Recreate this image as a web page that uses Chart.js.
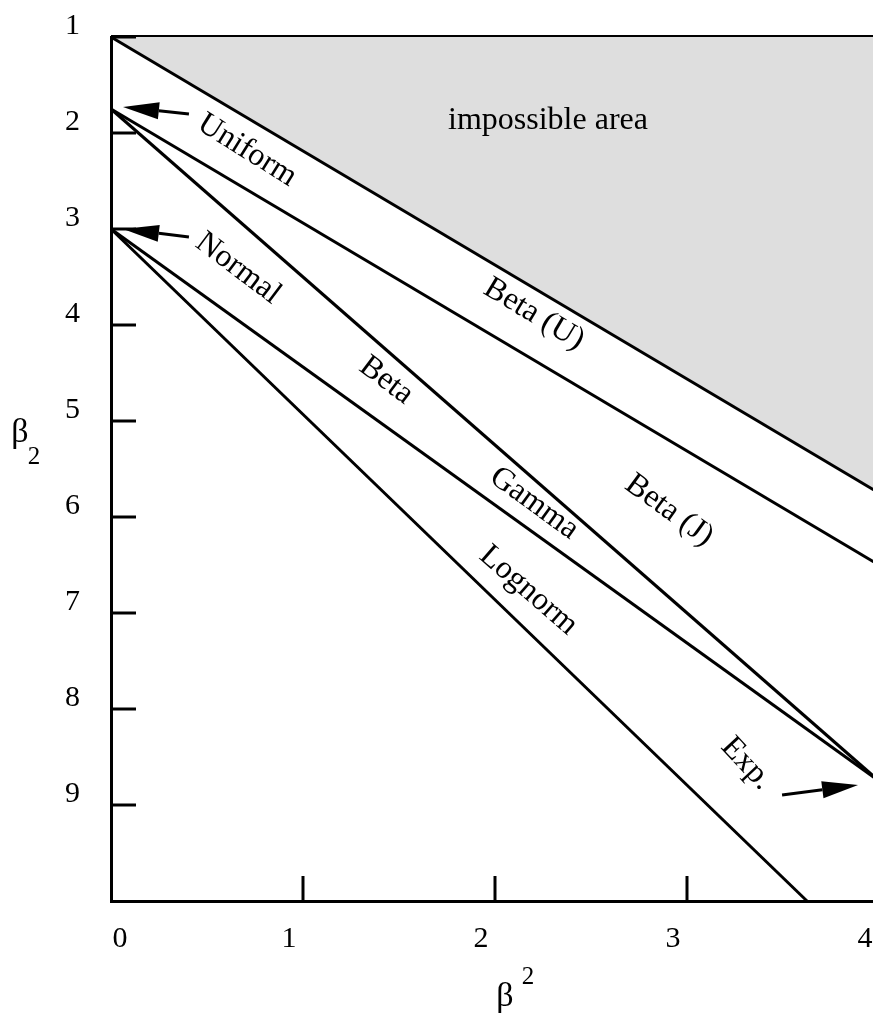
<!DOCTYPE html>
<html>
<head>
<meta charset="utf-8">
<script src="https://cdn.jsdelivr.net/npm/chart.js@4.4.1/dist/chart.umd.min.js"></script>
<style>
  html, body { margin: 0; padding: 0; background: #fff; overflow: hidden; }
  #wrap { position: relative; width: 880px; height: 1014px; }
</style>
</head>
<body>
<div id="wrap"><canvas id="c" width="880" height="1014"></canvas></div>
<script>
// Boundary lines of the (β², β₂) plane, as end points [x = β², y = β₂]
const impossibleX = [0, 4];
const impossibleY = [1, 5.75];
const topEdgeX = [0, 4];
const topEdgeY = [1, 1];
const betaUJX = [0, 4];
const betaUJY = [1.75, 6.5];
const betaX = [0, 4];
const betaY = [1.75, 8.75];
const gammaX = [0, 4];
const gammaY = [3, 8.75];
const lognormX = [0, 3.625];
const lognormY = [3, 10];

// Axis ticks
const xTickValues = [0, 1, 2, 3, 4];
const xTickLabels = ['0', '1', '2', '3', '4'];
const xTickMarks = [1, 2, 3];
const yTickValues = [1, 2, 3, 4, 5, 6, 7, 8, 9];
const yTickLabels = ['1', '2', '3', '4', '5', '6', '7', '8', '9'];

// Region / distribution names, placed in data units
const noteTexts = ['impossible area', 'Uniform', 'Normal', 'Beta (U)', 'Beta', 'Gamma', 'Beta (J)', 'Lognorm', 'Exp.'];
const noteX = [2.276, 0.703, 0.656, 2.198, 1.427, 2.198, 2.901, 2.167, 3.302];
const noteY = [1.896, 2.198, 3.427, 3.906, 4.594, 5.875, 5.948, 6.781, 8.583];
const noteAngle = [0, 32, 37, 31, 37, 36, 36, 41, 47];

// Pointer arrows: tail and head in data units
const arrowFromX = [0.406, 0.406, 3.495];
const arrowFromY = [1.802, 3.083, 8.896];
const arrowToX = [0.0625, 0.0625, 3.891];
const arrowToY = [1.729, 3.0, 8.792];

const serif = "'Liberation Serif', 'Times New Roman', serif";

function pts(xs, ys) { return xs.map((x, i) => ({ x: x, y: ys[i] })); }

function lineSet(xs, ys, extra) {
  return Object.assign({
    data: pts(xs, ys),
    showLine: true,
    borderColor: '#000',
    borderWidth: 3,
    pointRadius: 0,
    fill: false,
    clip: false
  }, extra || {});
}

const overlay = {
  id: 'overlay',
  afterDatasetsDraw(chart) {
    const ctx = chart.ctx;
    const xs = chart.scales.x, ys = chart.scales.y;
    const area = chart.chartArea;
    ctx.save();
    ctx.strokeStyle = '#000';
    ctx.fillStyle = '#000';
    ctx.lineWidth = 3;
    ctx.lineCap = 'butt';

    // inward tick marks
    const tickLen = 25;
    yTickValues.forEach(v => {
      const py = ys.getPixelForValue(v);
      ctx.beginPath(); ctx.moveTo(area.left, py); ctx.lineTo(area.left + tickLen, py); ctx.stroke();
    });
    xTickMarks.forEach(v => {
      const px = xs.getPixelForValue(v);
      ctx.beginPath(); ctx.moveTo(px, area.bottom); ctx.lineTo(px, area.bottom - tickLen); ctx.stroke();
    });

    // x tick labels
    ctx.font = '30px ' + serif;
    ctx.textAlign = 'center';
    ctx.textBaseline = 'middle';
    xTickValues.forEach((v, i) => {
      const px = xs.getPixelForValue(v) + (i === 0 ? 9 : -14);
      ctx.fillText(xTickLabels[i], px, area.bottom + 38);
    });

    // annotations
    ctx.font = '32px ' + serif;
    noteTexts.forEach((t, i) => {
      const px = xs.getPixelForValue(noteX[i]);
      const py = ys.getPixelForValue(noteY[i]);
      ctx.save();
      ctx.translate(px, py);
      ctx.rotate(noteAngle[i] * Math.PI / 180);
      ctx.fillText(t, 0, -2);
      ctx.restore();
    });

    // arrows
    arrowFromX.forEach((_, i) => {
      const x0 = xs.getPixelForValue(arrowFromX[i]), y0 = ys.getPixelForValue(arrowFromY[i]);
      const x1 = xs.getPixelForValue(arrowToX[i]), y1 = ys.getPixelForValue(arrowToY[i]);
      const dx = x1 - x0, dy = y1 - y0, len = Math.hypot(dx, dy);
      const ux = dx / len, uy = dy / len;
      const headLen = 36, headHalf = 8.5;
      const bx = x1 - ux * headLen, by = y1 - uy * headLen;
      ctx.beginPath(); ctx.moveTo(x0, y0); ctx.lineTo(bx, by); ctx.stroke();
      ctx.beginPath();
      ctx.moveTo(x1, y1);
      ctx.lineTo(bx - uy * headHalf, by + ux * headHalf);
      ctx.lineTo(bx + uy * headHalf, by - ux * headHalf);
      ctx.closePath();
      ctx.fill();
    });

    // axis titles
    ctx.font = '34px ' + serif;
    ctx.fillText('β', area.left - 91, 433);
    ctx.fillText('β', 505, area.bottom + 96);
    ctx.font = '25px ' + serif;
    ctx.fillText('2', area.left - 77, 457);
    ctx.fillText('2', 528, area.bottom + 76);
    ctx.restore();
  }
};

new Chart(document.getElementById('c'), {
  type: 'scatter',
  data: {
    datasets: [
      lineSet(impossibleX, impossibleY, { fill: { target: { value: 1 } }, backgroundColor: '#dedede' }),
      lineSet(topEdgeX, topEdgeY, { borderWidth: 4 }),
      lineSet(betaUJX, betaUJY),
      lineSet(betaX, betaY),
      lineSet(gammaX, gammaY),
      lineSet(lognormX, lognormY)
    ]
  },
  options: {
    responsive: false,
    animation: false,
    layout: { padding: { top: 37, right: 1, left: 0, bottom: 0 } },
    plugins: { legend: { display: false }, tooltip: { enabled: false } },
    scales: {
      x: {
        type: 'linear', min: 0, max: 4,
        grid: { display: false, drawTicks: false },
        border: { display: true, color: '#000', width: 3 },
        ticks: { display: false, stepSize: 1 },
        afterFit(scale) {
          scale.height = 113;
          scale.paddingLeft = 0; scale.paddingRight = 0;
        }
      },
      y: {
        type: 'linear', min: 1, max: 10, reverse: true,
        grid: { display: false, drawTicks: false },
        border: { display: true, color: '#000', width: 3 },
        ticks: {
          stepSize: 1, autoSkip: false, padding: 31, labelOffset: -11,
          color: '#000', font: { family: serif, size: 30 },
          callback(v) {
            const i = yTickValues.indexOf(v);
            return i >= 0 ? yTickLabels[i] : '';
          }
        },
        afterFit(scale) {
          scale.width = 111;
          scale.paddingTop = 0; scale.paddingBottom = 0;
        }
      }
    }
  },
  plugins: [overlay]
});
</script>
</body>
</html>
